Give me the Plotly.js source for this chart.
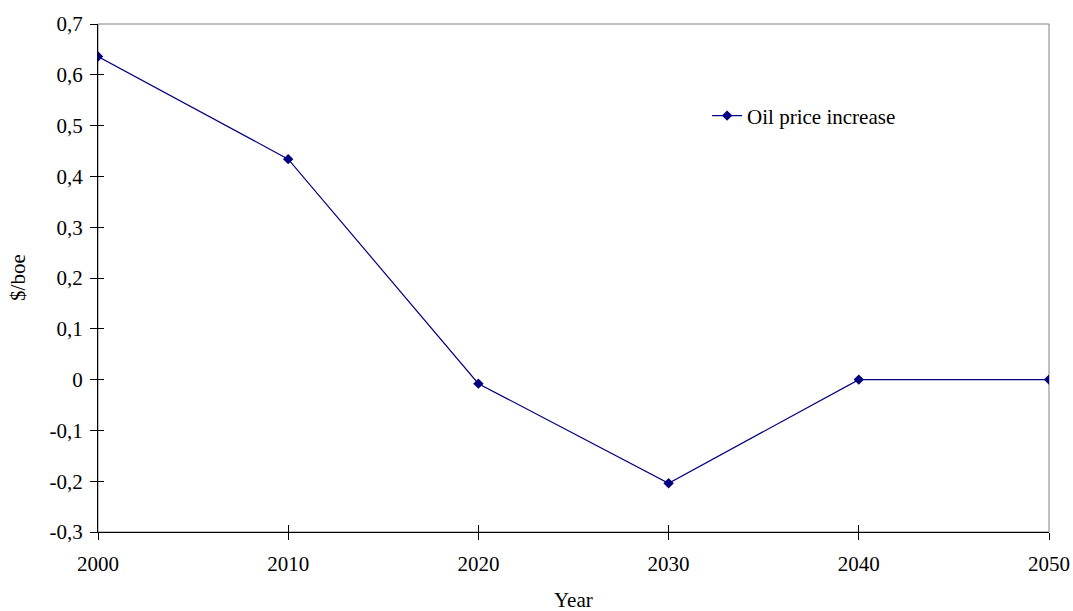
<!DOCTYPE html>
<html>
<head>
<meta charset="utf-8">
<script src="https://cdn.plot.ly/plotly-3.0.1.min.js"></script>
<style>html,body{margin:0;padding:0;background:#fff;}#chart{width:1073px;height:611px;}</style>
</head>
<body>
<div id="chart"></div>
<script>
const years = [2000, 2010, 2020, 2030, 2040, 2050];
const oilPriceIncrease = [0.636, 0.434, -0.008, -0.204, 0, 0];
const seriesName = "Oil price increase";
const yTickVals = [-0.3, -0.2, -0.1, 0, 0.1, 0.2, 0.3, 0.4, 0.5, 0.6, 0.7];
const yTickText = ["-0,3", "-0,2", "-0,1", "0", "0,1", "0,2", "0,3", "0,4", "0,5", "0,6", "0,7"];
const xTickVals = [2000, 2010, 2020, 2030, 2040, 2050];
const xTickText = ["2000", "2010", "2020", "2030", "2040", "2050"];
const xTitle = "Year";
const yTitle = "$/boe";

const font = {family: "Liberation Serif, Times New Roman, serif", size: 21, color: "#000"};

const traces = [{
  x: years, y: oilPriceIncrease, name: seriesName,
  type: "scatter", mode: "lines+markers",
  line: {color: "#000080", width: 1.2},
  marker: {symbol: "diamond", size: 8, color: "#000080"}
}];

const layout = {
  width: 1073, height: 611,
  margin: {l: 98, r: 24, t: 24, b: 79},
  paper_bgcolor: "#fff", plot_bgcolor: "#fff",
  font: font,
  showlegend: true,
  legend: {x: 0.6405, y: 0.819, xanchor: "left", yanchor: "middle", bgcolor: "rgba(0,0,0,0)",
    itemwidth: 30, font: {family: font.family, size: 21, color: "#000"}},
  xaxis: {
    range: [2000, 2050], tickvals: xTickVals, ticktext: xTickText,
    showgrid: false, zeroline: false, showline: true, linecolor: "#000", linewidth: 1,
    ticks: "outside", ticklen: 7, tickcolor: "#000", tickwidth: 1,
    ticklabelstandoff: 6, tickfont: font
  },
  xaxis2: {
    overlaying: "x", range: [2000, 2050], tickvals: xTickVals, showticklabels: false,
    showgrid: false, zeroline: false, showline: false,
    ticks: "inside", ticklen: 7, tickcolor: "#000", tickwidth: 1, side: "bottom", anchor: "y"
  },
  yaxis: {
    range: [-0.3, 0.7], tickvals: yTickVals, ticktext: yTickText,
    showgrid: false, zeroline: false, showline: true, linecolor: "#000", linewidth: 1,
    ticks: "outside", ticklen: 7, tickcolor: "#000", tickwidth: 1,
    ticklabelstandoff: 3, tickfont: font
  },
  yaxis2: {
    overlaying: "y", range: [-0.3, 0.7], tickvals: yTickVals, showticklabels: false,
    showgrid: false, zeroline: false, showline: false,
    ticks: "inside", ticklen: 6, tickcolor: "#000", tickwidth: 1, side: "left", anchor: "x"
  },
  shapes: [{
    type: "rect", xref: "paper", yref: "paper", x0: 0, x1: 1, y0: 0, y1: 1,
    line: {color: "#808080", width: 1}, layer: "below"
  }],
  annotations: [
    {text: xTitle, xref: "paper", yref: "paper", x: 0.5005, y: -0.134, xanchor: "center", yanchor: "middle",
      showarrow: false, font: font},
    {text: yTitle, xref: "paper", yref: "paper", x: -0.0842, y: 0.502, xanchor: "center", yanchor: "middle",
      textangle: -90, showarrow: false, font: font}
  ]
};

traces.push({x: [years[0]], y: [oilPriceIncrease[0]], xaxis: "x2", yaxis: "y2", mode: "markers",
  marker: {opacity: 0}, showlegend: false, hoverinfo: "skip"});

Plotly.newPlot("chart", traces, layout, {displayModeBar: false, staticPlot: true});
</script>
</body>
</html>
